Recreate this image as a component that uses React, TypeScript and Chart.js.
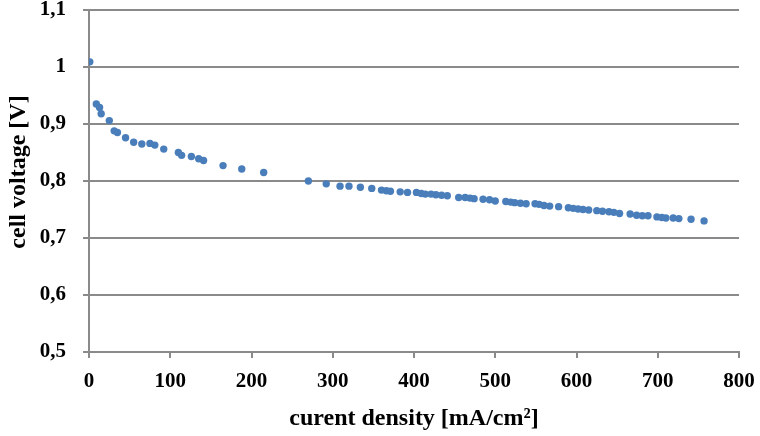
import React, { useEffect, useRef } from "react";
import { Chart, registerables } from "chart.js";

Chart.register(...registerables);

const currentDensity = [
  1, 9, 13, 15, 25, 31, 35, 45, 55, 65, 75, 81, 92, 110, 114, 126, 135, 141,
  165, 188, 215, 270, 292, 309, 320, 334, 348, 360, 366, 371, 383, 392, 403,
  409, 414, 421, 427, 434, 441, 455, 463, 469, 474, 485, 493, 500, 513, 519,
  524, 531, 538, 549, 554, 560, 567, 578, 590, 596, 602, 608, 615, 625, 632,
  640, 646, 653, 666, 674, 681, 688, 699, 705, 710, 719, 726, 741, 757,
];
const cellVoltage = [
  1.009, 0.935, 0.929, 0.918, 0.906, 0.888, 0.885, 0.876, 0.868, 0.865, 0.866,
  0.863, 0.856, 0.85, 0.845, 0.843, 0.839, 0.836, 0.827, 0.821, 0.815, 0.8,
  0.795, 0.791, 0.791, 0.789, 0.787, 0.784, 0.783, 0.782, 0.781, 0.78, 0.78,
  0.778, 0.777, 0.777, 0.776, 0.775, 0.774, 0.771, 0.771, 0.77, 0.769, 0.768,
  0.767, 0.765, 0.764, 0.763, 0.762, 0.761, 0.76, 0.76, 0.759, 0.757, 0.756,
  0.755, 0.753, 0.752, 0.751, 0.75, 0.749, 0.748, 0.747, 0.746, 0.745, 0.743,
  0.742, 0.74, 0.739, 0.739, 0.737, 0.736, 0.735, 0.735, 0.734, 0.733, 0.73,
];

const xTitle = "curent density [mA/cm²]";
const yTitle = "cell voltage [V]";
const xMin = 0;
const xMax = 800;
const xStep = 100;
const yMin = 0.5;
const yMax = 1.1;
const yStep = 0.1;

const FONT = "'Liberation Serif', 'Times New Roman', serif";
const GRID = "#8a8a8a";
const DOT = "#4a7ebb";

export default function App() {
  const ref = useRef<HTMLCanvasElement | null>(null);

  useEffect(() => {
    if (!ref.current) return;
    const points = currentDensity.map((x, i) => ({ x, y: cellVoltage[i] }));
    const chart = new Chart(ref.current, {
      type: "scatter",
      data: {
        datasets: [
          {
            data: points,
            backgroundColor: DOT,
            borderColor: DOT,
            borderWidth: 0,
            pointRadius: 3.7,
            showLine: false,
          },
        ],
      },
      options: {
        responsive: false,
        animation: false,
        events: [],
        layout: { padding: { top: 10, right: 21, left: 0, bottom: 0 } },
        plugins: {
          legend: { display: false },
          tooltip: { enabled: false },
        },
        scales: {
          x: {
            type: "linear",
            min: xMin,
            max: xMax,
            afterFit: (s: any) => {
              s.height = 84;
              s.paddingLeft = 0;
              s.paddingRight = 0;
            },
            ticks: {
              stepSize: xStep,
              color: "#000",
              padding: 14,
              maxRotation: 0,
              font: { family: FONT, size: 21, weight: "bold", lineHeight: 0.9 },
            },
            grid: {
              display: true,
              drawOnChartArea: false,
              drawTicks: true,
              tickLength: 6,
              color: GRID,
              lineWidth: 2,
            },
            border: { display: true, color: GRID, width: 2 },
            title: {
              display: true,
              text: xTitle,
              color: "#000",
              padding: { top: 0, bottom: 3 },
              font: { family: FONT, size: 24, weight: "bold" },
            },
          },
          y: {
            type: "linear",
            min: yMin,
            max: yMax,
            afterFit: (s: any) => {
              s.width = 89;
              s.paddingTop = 0;
              s.paddingBottom = 0;
            },
            ticks: {
              stepSize: yStep,
              color: "#000",
              padding: 17,
              font: { family: FONT, size: 21, weight: "bold", lineHeight: 0.9 },
              callback: (v: any) => {
                const r = Math.round(Number(v) * 10) / 10;
                return String(r).replace(".", ",");
              },
            },
            grid: {
              display: true,
              drawTicks: true,
              tickLength: 6,
              color: GRID,
              lineWidth: 2,
            },
            border: { display: true, color: GRID, width: 2 },
            title: {
              display: true,
              text: "   " + yTitle,
              color: "#000",
              padding: { top: 4, bottom: 0 },
              font: { family: FONT, size: 24, weight: "bold" },
            },
          },
        },
      },
    });
    return () => chart.destroy();
  }, []);

  return (
    <div style={{ position: "absolute", left: 0, top: 0, width: 760, height: 436, background: "#fff" }}>
      <canvas ref={ref} width={760} height={436} style={{ width: 760, height: 436, display: "block" }} />
    </div>
  );
}
